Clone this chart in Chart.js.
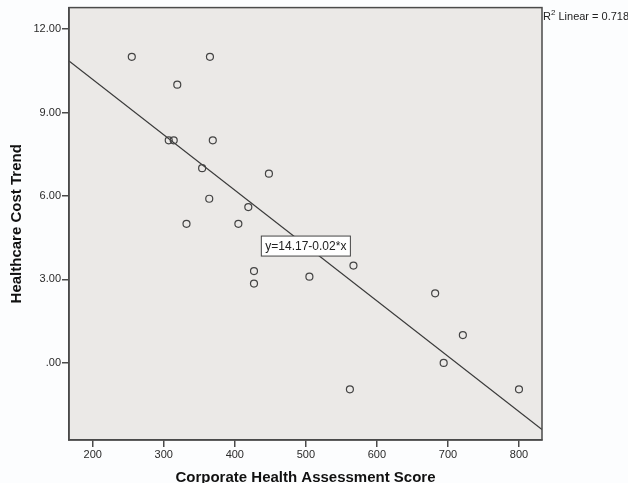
<!DOCTYPE html>
<html>
<head>
<meta charset="utf-8">
<script src="https://cdn.jsdelivr.net/npm/chart.js@4/dist/chart.umd.min.js"></script>
<style>
  html, body { margin: 0; padding: 0; background: #fcfdfe; }
  #wrap { width: 628px; height: 483px; }
</style>
</head>
<body>
<div id="wrap"><canvas id="scatter" width="628" height="483"></canvas></div>
<script>
// values
const assessmentScore = [255, 365, 319, 307, 314, 369, 354, 448, 364, 419, 332, 405, 427, 427, 505, 567, 682, 721, 694, 562, 800];
const costTrend = [11.0, 11.0, 10.0, 8.0, 8.0, 8.0, 7.0, 6.8, 5.9, 5.6, 5.0, 5.0, 3.3, 2.85, 3.1, 3.5, 2.5, 1.0, 0.0, -0.95, -0.95];

const xTicks = [200, 300, 400, 500, 600, 700, 800];
const yTicks = [0, 3, 6, 9, 12];
const yTickLabels = ['.00', '3.00', '6.00', '9.00', '12.00'];

const xRange = [166.6, 832.4];
const yRange = [-2.77, 12.77];

// fit line shown in the chart
const fitIntercept = 14.17;
const fitSlope = -0.0199;
const fitLabel = 'y=14.17-0.02*x';
const fitLabelAt = { x: 500, y: 4.2 };
const rSquared = '0.718';

const points = assessmentScore.map((x, i) => ({ x: x, y: costTrend[i] }));
const fitLine = xRange.map(x => ({ x: x, y: fitIntercept + fitSlope * x }));

const frameColor = '#4a4a4a';
const fontFamily = 'Arial, "Liberation Sans", sans-serif';

const plotDecor = {
    id: 'plotDecor',
    beforeDraw(chart) {
        const { ctx, chartArea: a } = chart;
        ctx.save();
        ctx.fillStyle = '#ebe9e7';
        ctx.fillRect(a.left, a.top, a.right - a.left, a.bottom - a.top);
        ctx.restore();
    },
    afterDatasetsDraw(chart) {
        const { ctx, chartArea: a, scales } = chart;
        ctx.save();
        // frame round the plot
        ctx.strokeStyle = frameColor;
        ctx.lineWidth = 1.5;
        ctx.strokeRect(a.left, a.top, a.right - a.left, a.bottom - a.top);

        // equation label
        ctx.font = '12px ' + fontFamily;
        const cx = scales.x.getPixelForValue(fitLabelAt.x);
        const cy = scales.y.getPixelForValue(fitLabelAt.y);
        const w = ctx.measureText(fitLabel).width + 8;
        const h = 20;
        ctx.fillStyle = '#ffffff';
        ctx.fillRect(cx - w / 2, cy - h / 2, w, h);
        ctx.strokeStyle = '#444';
        ctx.lineWidth = 1;
        ctx.strokeRect(cx - w / 2, cy - h / 2, w, h);
        ctx.fillStyle = '#222';
        ctx.textAlign = 'center';
        ctx.textBaseline = 'middle';
        ctx.fillText(fitLabel, cx, cy + 0.5);

        // R squared note, top right
        let x = a.right + 1;
        const y = 17;
        ctx.textAlign = 'left';
        ctx.font = '11px ' + fontFamily;
        ctx.fillText('R', x, y);
        x += ctx.measureText('R').width;
        ctx.font = '8px ' + fontFamily;
        ctx.fillText('2', x, y - 4);
        x += ctx.measureText('2').width;
        ctx.font = '11px ' + fontFamily;
        ctx.fillText(' Linear = ' + rSquared, x, y);
        ctx.restore();
    }
};

new Chart(document.getElementById('scatter'), {
    type: 'scatter',
    data: {
        datasets: [
            {
                data: points,
                pointStyle: 'circle',
                pointRadius: 3.5,
                pointBorderWidth: 1.2,
                pointBorderColor: '#444',
                pointBackgroundColor: 'rgba(0,0,0,0)',
                showLine: false
            },
            {
                type: 'line',
                data: fitLine,
                borderColor: '#3a3a3a',
                borderWidth: 1.2,
                pointRadius: 0,
                fill: false
            }
        ]
    },
    options: {
        responsive: false,
        animation: false,
        devicePixelRatio: 1,
        layout: { padding: { left: 0, top: 7, right: 86, bottom: 0 } },
        plugins: {
            legend: { display: false },
            tooltip: { enabled: false }
        },
        scales: {
            x: {
                type: 'linear',
                min: xRange[0],
                max: xRange[1],
                afterBuildTicks: s => { s.ticks = xTicks.map(v => ({ value: v })); },
                afterFit: s => { s.height = 43; },
                grid: { drawOnChartArea: false, drawTicks: true, tickLength: 7, color: frameColor, lineWidth: 1.5 },
                border: { display: true, color: frameColor, width: 1.5 },
                ticks: {
                    padding: 1,
                    color: '#2a2a2a',
                    font: { family: fontFamily, size: 11 },
                    maxRotation: 0,
                    callback: v => String(v)
                },
                title: {
                    display: true,
                    text: 'Corporate Health Assessment Score',
                    color: '#111',
                    padding: { top: 0, bottom: 0 },
                    font: { family: fontFamily, size: 15, weight: 'bold', lineHeight: 0.707 }
                }
            },
            y: {
                type: 'linear',
                min: yRange[0],
                max: yRange[1],
                afterBuildTicks: s => { s.ticks = yTicks.map(v => ({ value: v })); },
                afterFit: s => { s.width = 69; },
                grid: { drawOnChartArea: false, drawTicks: true, tickLength: 7, color: frameColor, lineWidth: 1.5 },
                border: { display: true, color: frameColor, width: 1.5 },
                ticks: {
                    padding: 1,
                    color: '#2a2a2a',
                    font: { family: fontFamily, size: 11 },
                    callback: v => yTickLabels[yTicks.indexOf(v)]
                },
                title: {
                    display: true,
                    text: 'Healthcare Cost Trend',
                    color: '#111',
                    padding: { top: 8, bottom: 0 },
                    font: { family: fontFamily, size: 15, weight: 'bold' }
                }
            }
        }
    },
    plugins: [plotDecor]
});
</script>
</body>
</html>
